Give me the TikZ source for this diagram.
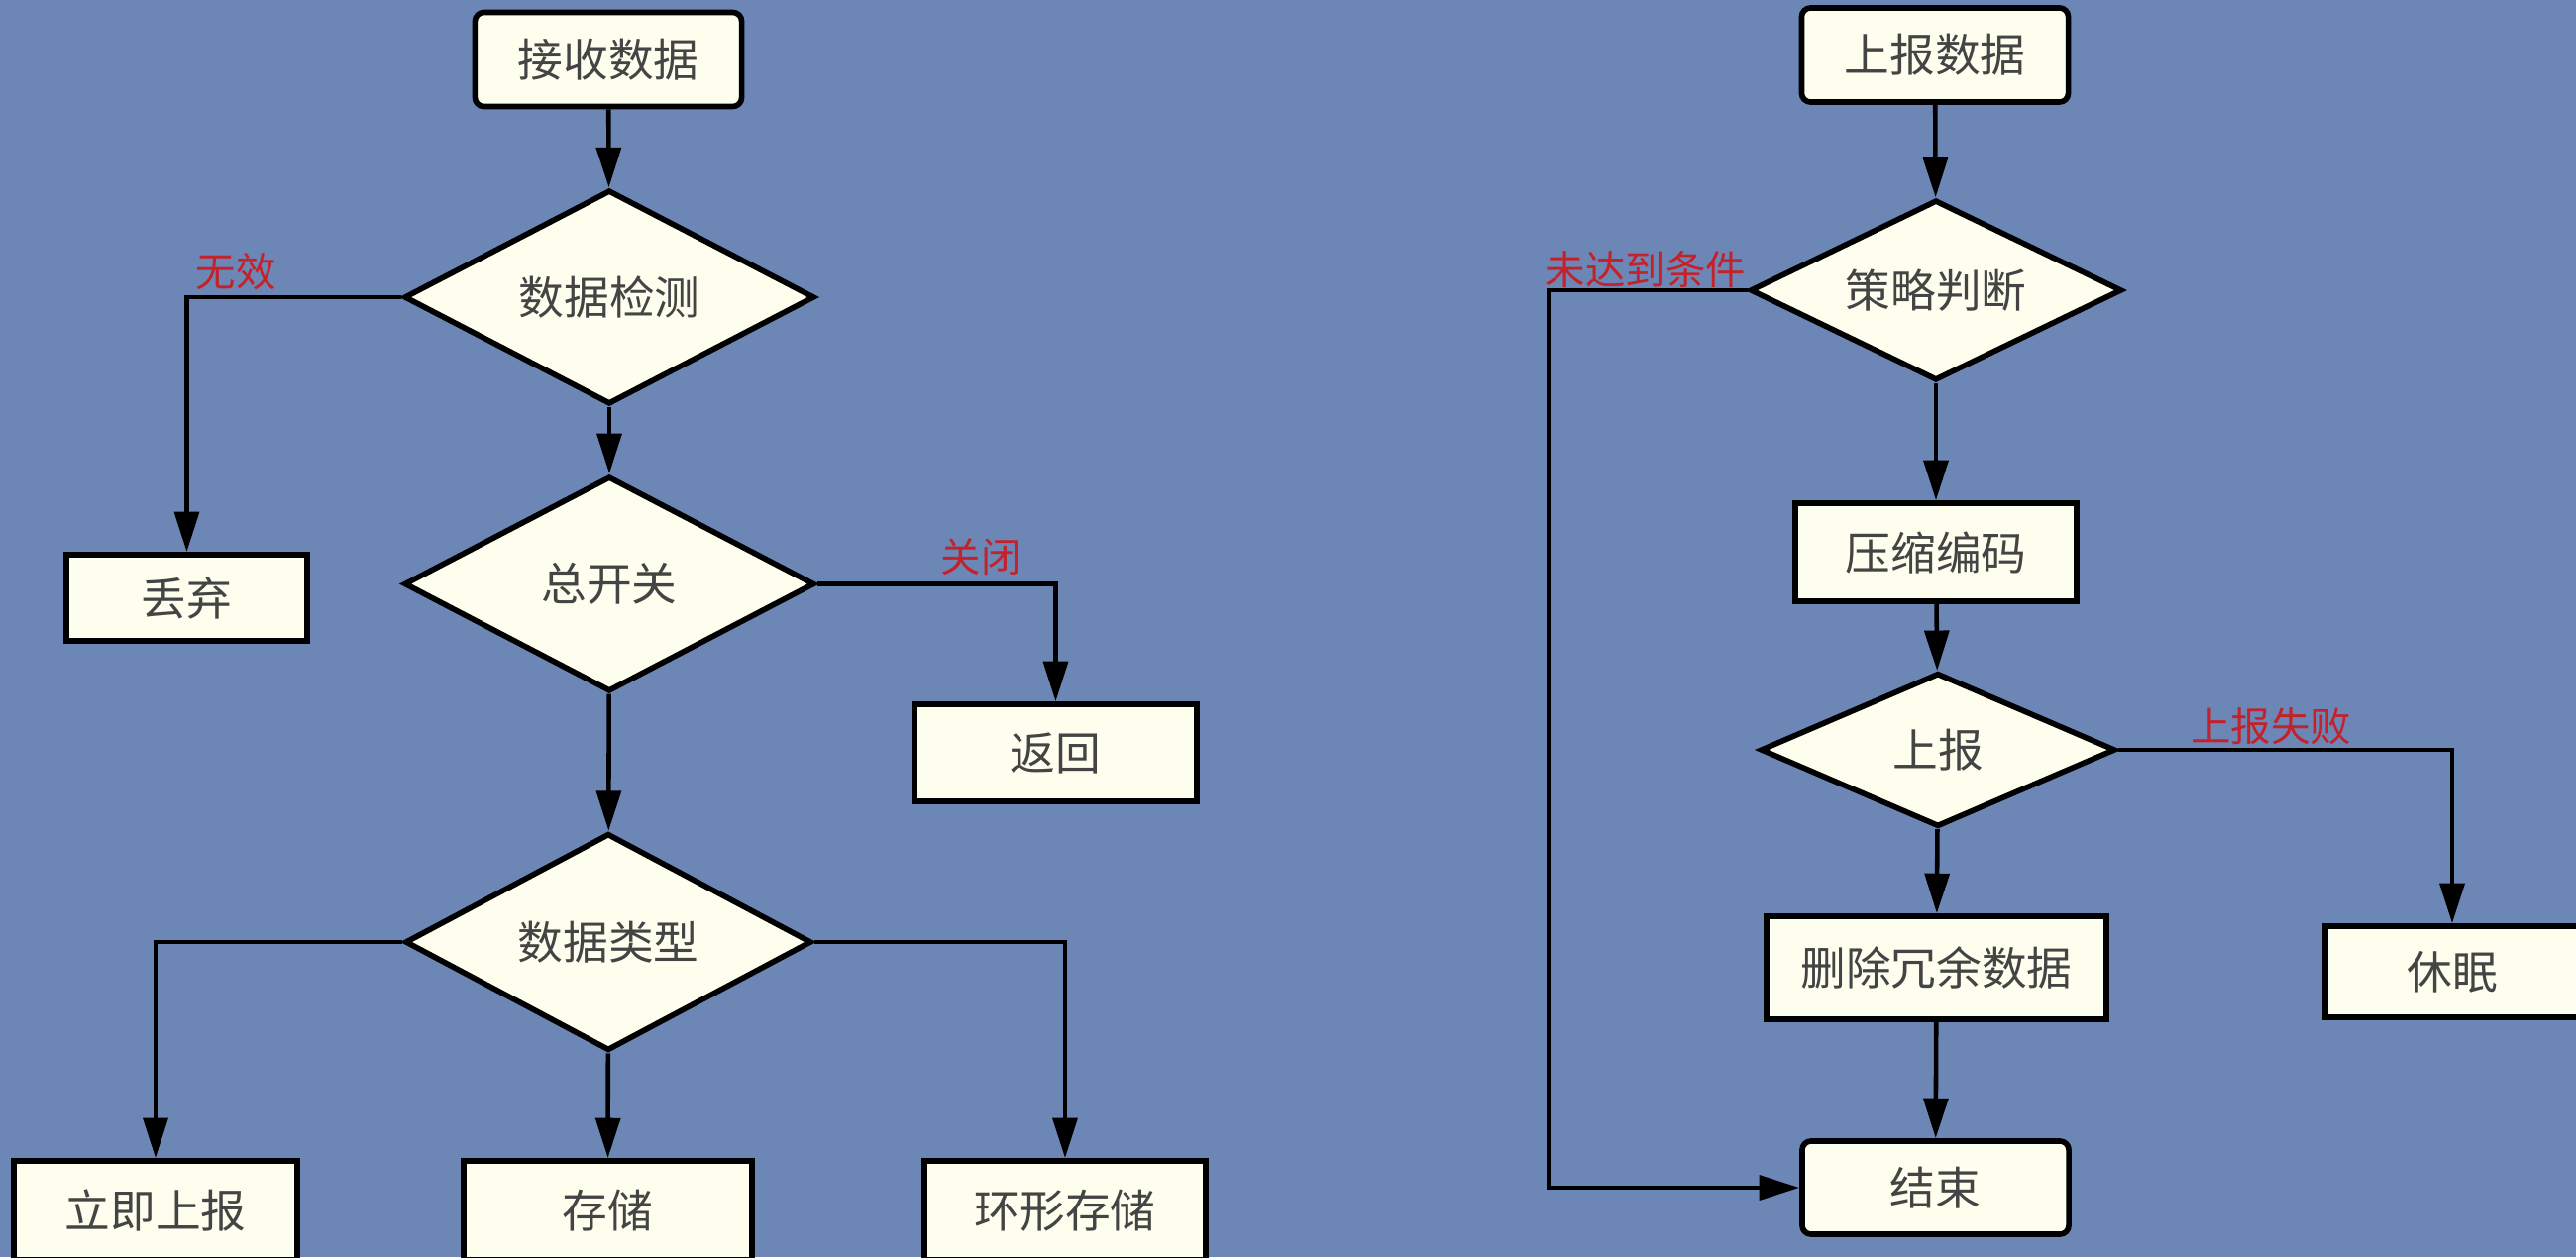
\documentclass[tikz,border=0pt]{standalone}
\usepackage{fontspec}
\newfontfamily\cjk{Noto Sans CJK SC}
\usetikzlibrary{shapes.geometric,arrows.meta}
\definecolor{bgblue}{RGB}{108,134,181}
\definecolor{boxfill}{RGB}{254,254,238}
\definecolor{txtgray}{RGB}{68,68,68}
\definecolor{lblred}{RGB}{196,34,42}
\tikzset{
  every node/.style={font=\cjk\fontsize{13pt}{15pt}\selectfont, text=txtgray},
  procbox/.style={rectangle, draw=black, fill=boxfill, line width=1.6pt, inner sep=0pt},
  termbox/.style={procbox, rounded corners=0.09cm},
  decide/.style={diamond, draw=black, fill=boxfill, line width=1.6pt, inner sep=0pt},
  conn/.style={line width=1.3pt, draw=black, -{Triangle[length=11.5pt,width=7pt]}},
  cond/.style={font=\cjk\fontsize{11.5pt}{13pt}\selectfont, text=lblred, inner sep=0pt}
}
\begin{document}
\begin{tikzpicture}[x=0.01cm,y=-0.01cm]
\useasboundingbox (0,0) rectangle (2600,1269);
\clip (0,0) rectangle (2600,1269);
\fill[bgblue] (0,0) rectangle (2600,1269);

% left column
\node[termbox, minimum width=2.69cm, minimum height=0.95cm] (recv) at (614,60) {接收数据};
\node[decide, shape aspect=1.92, minimum width=4.14cm, minimum height=2.16cm] (check) at (615,300) {数据检测};
\node[procbox, minimum width=2.43cm, minimum height=0.87cm] (drop) at (188.5,603.5) {丢弃};
\node[decide, shape aspect=1.91, minimum width=4.14cm, minimum height=2.17cm] (switch) at (615,589.5) {总开关};
\node[procbox, minimum width=2.85cm, minimum height=0.98cm] (ret) at (1065.5,760) {返回};
\node[decide, shape aspect=1.87, minimum width=4.10cm, minimum height=2.19cm] (type) at (614,951) {数据类型};
\node[procbox, minimum width=2.86cm, minimum height=1.00cm] (now) at (157,1222) {立即上报};
\node[procbox, minimum width=2.91cm, minimum height=1.00cm] (store) at (613.5,1222) {存储};
\node[procbox, minimum width=2.84cm, minimum height=1.00cm] (ring) at (1075,1222) {环形存储};

\draw[conn] (recv) -- (check);
\draw[conn] (check.west) -| (drop.north);
\draw[conn] (check) -- (switch);
\draw[conn] (switch.east) -| (ret.north);
\draw[conn] (switch) -- (type);
\draw[conn] (type.west) -| (now.north);
\draw[conn] (type) -- (store);
\draw[conn] (type.east) -| (ring.north);

\node[cond] (invalid) at (238,274) {无效};
\node[cond] (closed) at (990,562) {关闭};

% right column
\node[termbox, minimum width=2.69cm, minimum height=0.95cm] (up) at (1953,55.5) {上报数据};
\node[decide, shape aspect=2.06, minimum width=3.75cm, minimum height=1.82cm] (policy) at (1954,293) {策略判断};
\node[procbox, minimum width=2.84cm, minimum height=0.99cm] (comp) at (1954,557.5) {压缩编码};
\node[decide, shape aspect=2.3, minimum width=3.58cm, minimum height=1.55cm] (report) at (1956,757) {上报};
\node[procbox, minimum width=3.43cm, minimum height=1.04cm] (del) at (1954.5,977) {删除冗余数据};
\node[procbox, minimum width=2.56cm, minimum height=0.92cm] (sleep) at (2475,981) {休眠};
\node[termbox, minimum width=2.69cm, minimum height=0.94cm] (end) at (1953.5,1199) {结束};
\coordinate (loop) at (1563,1199);

\draw[conn] (up) -- (policy);
\draw[conn] (policy) -- (comp);
\draw[conn] (comp) -- (report);
\draw[conn] (report) -- (del);
\draw[conn] (del) -- (end);
\draw[conn] (report.east) -| (sleep.north);
\draw[conn] (policy.west) -| (loop) -- (end.west);

\node[cond] (notmet) at (1661,272) {未达到条件};
\node[cond] (fail) at (2292,733) {上报失败};
\end{tikzpicture}
\end{document}
